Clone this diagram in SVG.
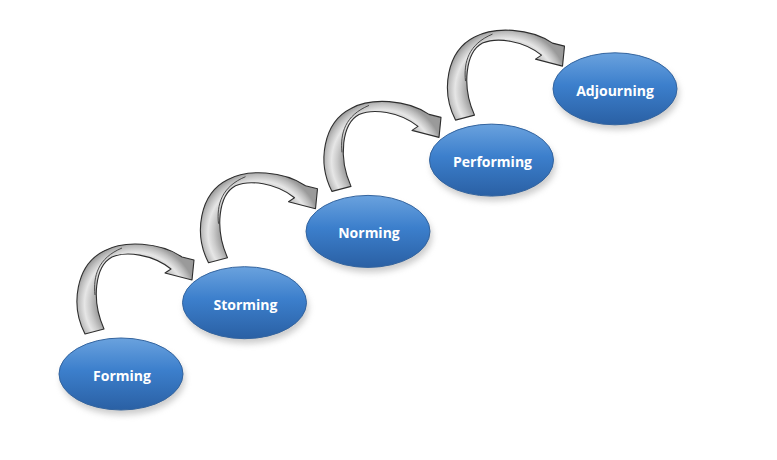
<svg xmlns="http://www.w3.org/2000/svg" xmlns:xlink="http://www.w3.org/1999/xlink" width="777" height="460" viewBox="0 0 777 460">
<style>
.node{fill:url(#blue);stroke:#33649f;stroke-width:1}
.shadow{fill:#9a9a9a;opacity:0.5;filter:url(#blur)}
.lbl{font-family:"Open Sans","Liberation Sans",sans-serif;font-weight:bold;font-size:14px;fill:#ffffff;text-anchor:middle}
.arrow{fill:url(#gray);stroke:#2e2e2e;stroke-width:1.1;stroke-linejoin:round}
.twist{fill:none;stroke:#3a3a3a;stroke-width:0.9}
</style>
<defs>
<linearGradient id="blue" x1="0" y1="0" x2="0" y2="1">
<stop offset="0" stop-color="#6aa2de"/>
<stop offset="0.45" stop-color="#3c7fcc"/>
<stop offset="1" stop-color="#2a60a4"/>
</linearGradient>
<radialGradient id="gray" gradientUnits="userSpaceOnUse" cx="136" cy="304" r="62">
<stop offset="0.62" stop-color="#9a9a9a"/>
<stop offset="0.74" stop-color="#cacaca"/>
<stop offset="0.83" stop-color="#e6e6e6"/>
<stop offset="0.93" stop-color="#bdbdbd"/>
<stop offset="1" stop-color="#9a9a9a"/>
</radialGradient>
<filter id="blur" x="-20%" y="-30%" width="140%" height="160%">
<feGaussianBlur stdDeviation="3"/>
</filter>
<g id="arr">
<path class="arrow" d="M 85 334 C 70 305, 76 265, 104 251 C 124 240, 160 242, 182 257 L 194 260 L 192 280 L 165 273 L 171 269 C 152 254, 126 251, 112 257 C 95 266, 91 300, 104 329 Z"/>
<path class="twist" d="M 95 295 C 93 276, 98 258, 122 248"/>
</g>
</defs>
<g id="connectors">
<use href="#arr" xlink:href="#arr"/>
<use href="#arr" xlink:href="#arr" transform="translate(123.5,-71.3)"/>
<use href="#arr" xlink:href="#arr" transform="translate(247,-142.6)"/>
<use href="#arr" xlink:href="#arr" transform="translate(370.5,-213.9)"/>
</g>
<g id="forming">
<ellipse class="shadow" cx="123" cy="379" rx="62" ry="36"/>
<ellipse class="node" cx="121" cy="374" rx="62" ry="36"/>
<text class="lbl" x="122" y="381">Forming</text>
</g>
<g id="storming">
<ellipse class="shadow" cx="246.5" cy="307.7" rx="62" ry="36"/>
<ellipse class="node" cx="244.5" cy="302.7" rx="62" ry="36"/>
<text class="lbl" x="245.5" y="309.7">Storming</text>
</g>
<g id="norming">
<ellipse class="shadow" cx="370" cy="236.4" rx="62" ry="36"/>
<ellipse class="node" cx="368" cy="231.4" rx="62" ry="36"/>
<text class="lbl" x="369" y="238.4">Norming</text>
</g>
<g id="performing">
<ellipse class="shadow" cx="493.5" cy="165.1" rx="62" ry="36"/>
<ellipse class="node" cx="491.5" cy="160.1" rx="62" ry="36"/>
<text class="lbl" x="492.5" y="167.1">Performing</text>
</g>
<g id="adjourning">
<ellipse class="shadow" cx="617" cy="93.8" rx="62" ry="36"/>
<ellipse class="node" cx="615" cy="88.8" rx="62" ry="36"/>
<text class="lbl" x="615" y="95.8">Adjourning</text>
</g>
</svg>
